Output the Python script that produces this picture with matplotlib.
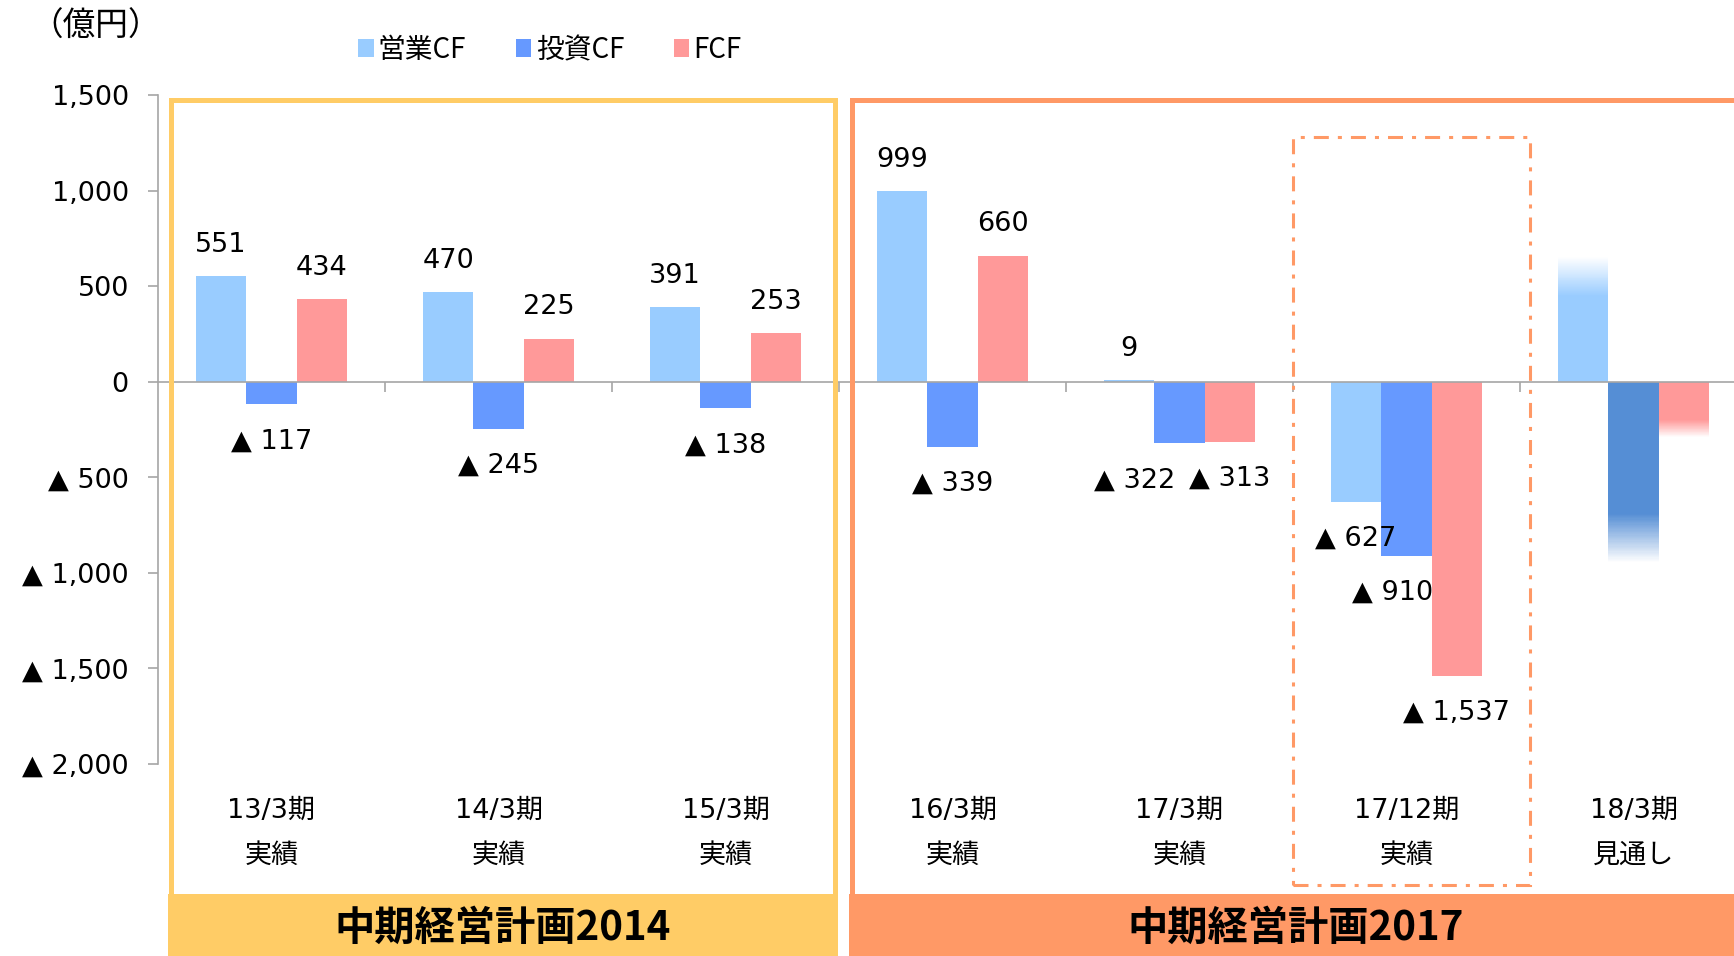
import matplotlib
matplotlib.use('Agg')
import matplotlib.pyplot as plt
from matplotlib.patches import Rectangle
from matplotlib.ticker import FuncFormatter, FixedLocator
import matplotlib.transforms as mtransforms
import numpy as np

# ---------------- data ----------------
periods = ['13/3期', '14/3期', '15/3期', '16/3期', '17/3期', '17/12期', '18/3期']
period_notes = ['実績', '実績', '実績', '実績', '実績', '実績', '見通し']
series_names = ['営業CF', '投資CF', 'FCF']
operating_cf = [551, 470, 391, 999, 9, -627]
investing_cf = [-117, -245, -138, -339, -322, -910]
free_cf = [434, 225, 253, 660, -313, -1537]
# 18/3 forecast, drawn as fading bars: solid part, then fade out to the end value
forecast_solid = [450, -690, -200]
forecast_fade_end = [650, -945, -290]
yticks = [1500, 1000, 500, 0, -500, -1000, -1500, -2000]
plan_titles = ['中期経営計画2014', '中期経営計画2017']

# ---------------- style ----------------
plt.rcParams['font.family'] = ['DejaVu Sans', 'Noto Sans CJK JP']
plt.rcParams['lines.scale_dashes'] = False
colors = ['#99CCFF', '#6699FF', '#FF9999']
forecast_colors = ['#99CCFF', '#558ED5', '#FF9999']
grey = '#A6A6A6'
yellow = '#FFCC66'
orange = '#FF9966'

W, H = 1734, 956
fig = plt.figure(figsize=(W / 100, H / 100), dpi=100)


def fx(px):
    return px / W


def fy(py):
    return 1 - py / H


ax_left, ax_top, ax_bottom = 158, 95, 764
cat_w = 227
ax = fig.add_axes([fx(ax_left), fy(ax_bottom), 7 * cat_w / W, (ax_bottom - ax_top) / H])
ax.set_xlim(-0.5, 6.5)
ax.set_ylim(-2000, 1500)

bw = 0.222
series = [operating_cf, investing_cf, free_cf]
handles = []
n_actual = len(operating_cf)
x = np.arange(n_actual)
for s, vals in enumerate(series):
    h = ax.bar(x + (s - 1) * bw, vals, width=bw, color=colors[s], edgecolor='none',
               label=series_names[s], zorder=2)
    handles.append(h)

# forecast bars (fading)
xf = n_actual
for s in range(3):
    xs = xf + (s - 1) * bw
    ax.bar(xs, forecast_solid[s], width=bw, color=forecast_colors[s], edgecolor='none', zorder=2)
    edges = np.linspace(forecast_solid[s], forecast_fade_end[s], 41)
    for k in range(40):
        a = 1 - (k + 0.5) / 40
        ax.bar(xs, edges[k + 1] - edges[k], bottom=edges[k], width=bw,
               color=forecast_colors[s], alpha=a, edgecolor='none', zorder=2)

# data labels
label_nudge = {(4, 1): -32, (5, 1): -10}
for i in range(n_actual):
    for s, vals in enumerate(series):
        v = vals[i]
        txt = f'{v:,}' if v >= 0 else f'▲ {abs(v):,}'
        dy = 22.5 if v >= 0 else -27
        ax.annotate(txt, (i + (s - 1) * bw, v), xytext=(label_nudge.get((i, s), 0), dy),
                    textcoords='offset points', ha='center', va='center',
                    fontsize=19.5, color='black', zorder=5)

# axes styling
for sp in ['top', 'right']:
    ax.spines[sp].set_visible(False)
ax.spines['bottom'].set_position(('data', 0))
ax.spines['bottom'].set_color(grey)
ax.spines['bottom'].set_linewidth(1.2)
ax.spines['left'].set_color(grey)
ax.spines['left'].set_linewidth(1.2)
ax.yaxis.set_major_locator(FixedLocator(yticks))
ax.yaxis.set_major_formatter(FuncFormatter(
    lambda v, p: '0' if v == 0 else (f'{int(v):,}' if v > 0 else f'▲ {int(-v):,}')))
ax.tick_params(axis='y', direction='out', length=7, width=1.2, color=grey,
               labelsize=19.5, pad=14)
ax.set_xticks(np.arange(0.5, 6.5, 1.0))
ax.set_xticklabels([])
ax.tick_params(axis='x', direction='out', length=7, width=1.2, color=grey)

# category labels
trans = mtransforms.blended_transform_factory(ax.transData, fig.transFigure)
for i, (p, n) in enumerate(zip(periods, period_notes)):
    ax.text(i, fy(811), p, transform=trans, ha='center', va='center', fontsize=19.5)
    ax.text(i, fy(856), n, transform=trans, ha='center', va='center', fontsize=19.5)

# plan frames & banners
frame_lw_px = 5
lw_pt = frame_lw_px * 0.72
frames = [(168, 837, yellow), (849, 1765, orange)]
for (l, r, c), title in zip(frames, plan_titles):
    fig.add_artist(Rectangle((fx(l), fy(956)), fx(r) - fx(l), fy(894) - fy(956),
                             transform=fig.transFigure, facecolor=c, edgecolor='none', zorder=3))
    hl = frame_lw_px / 2
    fig.add_artist(Rectangle((fx(l + hl), fy(960)), fx(r - l - 2 * hl), fy(97 + hl) - fy(960),
                             transform=fig.transFigure, facecolor='none', edgecolor=c,
                             linewidth=lw_pt, zorder=3))
    fig.text(fx((l + min(r, 1743)) / 2), fy(928), title, ha='center', va='center',
             fontsize=29, fontweight='bold', family=['Noto Sans CJK JP'], zorder=4)

# dash-dot highlight box for 17/12
fig.add_artist(Rectangle((fx(1293), fy(885)), fx(1530 - 1293), fy(137) - fy(885),
                         transform=fig.transFigure, facecolor='none', edgecolor=orange,
                         linewidth=2.2, linestyle=(0, (10.8, 6.5, 2.9, 6.5)), zorder=3))

# unit and legend
fig.text(fx(30), fy(27), '（億円）', ha='left', va='center', fontsize=23.5,
         family=['Noto Sans CJK JP'])
leg = fig.legend(handles=handles, labels=series_names, loc='center', ncol=3,
                 bbox_to_anchor=(fx(550), fy(50)), frameon=False,
                 handlelength=0.55, handleheight=0.6, handletextpad=0.15,
                 columnspacing=1.8, prop={'family': ['Noto Sans CJK JP'], 'size': 20})

fig.savefig('out.png', dpi=100)
